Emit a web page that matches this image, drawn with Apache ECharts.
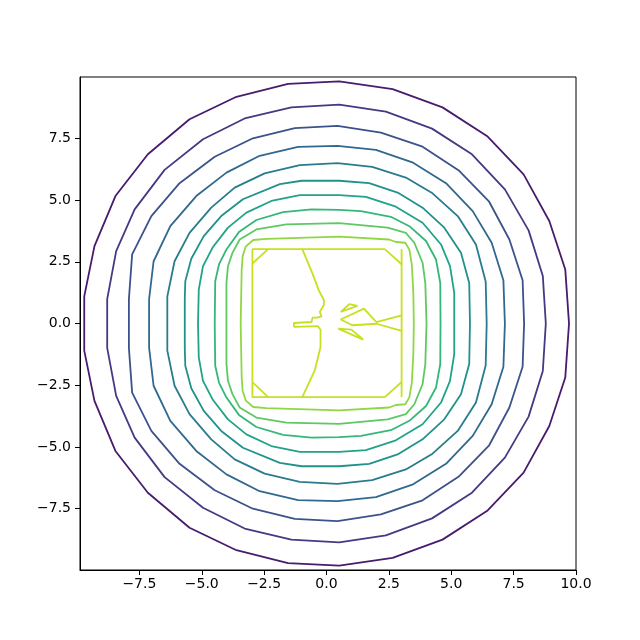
<!DOCTYPE html>
<html><head><meta charset="utf-8">
<script src="https://cdn.jsdelivr.net/npm/echarts@6/dist/echarts.min.js"></script>
<style>html,body{margin:0;padding:0;background:#fff}#c{width:640px;height:640px}</style>
</head><body><div id="c"></div>
<script>
// Tick labels
const xTicks = [-7.5, -5, -2.5, 0, 2.5, 5, 7.5, 10];
const yTicks = [-7.5, -5, -2.5, 0, 2.5, 5, 7.5];
// Contour level colours (viridis, outer -> inner)
const levelColors = ['#481b6d','#443a83','#3b528b','#31688e','#287c8e','#21918c','#20a386','#35b779','#5ec962','#90d743','#c8e020'];

// Contour rings (outer -> inner)
const ring1 = [[9.72,0],[9.57,2.19],[8.93,4.15],[7.90,6.04],[6.46,7.57],[4.65,8.75],[2.65,9.49],[0.51,9.80],[-1.54,9.70],[-3.61,9.18],[-5.49,8.27],[-7.16,6.85],[-8.46,5.16],[-9.30,3.13],[-9.71,1.10],[-9.71,-1.10],[-9.30,-3.13],[-8.46,-5.16],[-7.16,-6.85],[-5.49,-8.27],[-3.61,-9.18],[-1.54,-9.70],[0.51,-9.80],[2.65,-9.49],[4.65,-8.75],[6.46,-7.57],[7.90,-6.04],[8.93,-4.15],[9.57,-2.19],[9.72,0]];
const ring2 = [[8.79,0],[8.67,1.92],[8.10,3.77],[7.15,5.43],[5.83,6.85],[4.23,7.89],[2.38,8.58],[0.51,8.86],[-1.41,8.75],[-3.28,8.30],[-4.95,7.46],[-6.49,6.22],[-7.69,4.62],[-8.43,2.93],[-8.79,0.99],[-8.79,-0.99],[-8.43,-2.93],[-7.69,-4.62],[-6.49,-6.22],[-4.95,-7.46],[-3.28,-8.30],[-1.41,-8.75],[0.51,-8.86],[2.38,-8.58],[4.23,-7.89],[5.83,-6.85],[7.15,-5.43],[8.10,-3.77],[8.67,-1.92],[8.79,0]];
const ring3 = [[7.92,0],[7.86,1.75],[7.33,3.40],[6.52,4.93],[5.32,6.18],[3.85,7.16],[2.18,7.73],[0.44,8.00],[-1.27,7.91],[-2.95,7.50],[-4.48,6.75],[-5.89,5.68],[-7.02,4.35],[-7.79,2.80],[-7.92,0.99],[-7.92,-0.99],[-7.79,-2.80],[-7.02,-4.35],[-5.89,-5.68],[-4.48,-6.75],[-2.95,-7.50],[-1.27,-7.91],[0.44,-8.00],[2.18,-7.73],[3.85,-7.16],[5.32,-6.18],[6.52,-4.93],[7.33,-3.40],[7.86,-1.75],[7.92,0]];
const ring4 = [[7.15,0],[7.09,1.75],[6.62,3.27],[5.86,4.55],[4.79,5.68],[3.47,6.51],[1.98,7.03],[0.44,7.19],[-1.14,7.15],[-2.68,6.79],[-4.01,6.11],[-5.22,5.16],[-6.26,3.94],[-6.93,2.52],[-7.11,0.99],[-7.11,-0.99],[-6.93,-2.52],[-6.26,-3.94],[-5.22,-5.16],[-4.01,-6.11],[-2.68,-6.79],[-1.14,-7.15],[0.44,-7.19],[1.98,-7.03],[3.47,-6.51],[4.79,-5.68],[5.86,-4.55],[6.62,-3.27],[7.09,-1.75],[7.15,0]];
const ring5 = [[6.42,0],[6.38,1.70],[5.99,3.20],[5.26,4.35],[4.25,5.27],[3.18,5.91],[1.83,6.34],[0.44,6.49],[-1.07,6.41],[-2.48,6.08],[-3.68,5.50],[-4.62,4.69],[-5.49,3.67],[-6.09,2.52],[-6.38,1.10],[-6.38,-1.10],[-6.09,-2.52],[-5.49,-3.67],[-4.62,-4.69],[-3.68,-5.50],[-2.48,-6.08],[-1.07,-6.41],[0.44,-6.49],[1.83,-6.34],[3.18,-5.91],[4.25,-5.27],[5.26,-4.35],[5.99,-3.20],[6.38,-1.70],[6.42,0]];
const ring6 = [[5.75,0],[5.72,1.64],[5.39,2.86],[4.72,3.88],[3.85,4.69],[2.85,5.30],[1.71,5.68],[0.51,5.78],[-1.00,5.78],[-1.87,5.64],[-3.35,5.03],[-4.22,4.35],[-4.92,3.54],[-5.42,2.62],[-5.66,1.71],[-5.68,1.00],[-5.68,-1.00],[-5.66,-1.71],[-5.42,-2.62],[-4.92,-3.54],[-4.22,-4.35],[-3.35,-5.03],[-1.87,-5.64],[-1.00,-5.78],[0.51,-5.78],[1.71,-5.68],[2.85,-5.30],[3.85,-4.69],[4.72,-3.88],[5.39,-2.86],[5.72,-1.64],[5.75,0]];
const ring7 = [[5.12,0],[5.12,1.24],[4.95,2.32],[4.59,3.20],[3.85,4.08],[2.78,4.73],[1.58,5.13],[0.51,5.20],[-1.07,5.20],[-2.21,4.96],[-3.21,4.49],[-3.95,3.88],[-4.55,3.10],[-4.95,2.32],[-5.12,1.37],[-5.15,0],[-5.12,-1.37],[-4.95,-2.32],[-4.55,-3.10],[-3.95,-3.88],[-3.21,-4.49],[-2.21,-4.96],[-1.07,-5.20],[0.51,-5.20],[1.58,-5.13],[2.78,-4.73],[3.85,-4.08],[4.59,-3.20],[4.95,-2.32],[5.12,-1.24],[5.12,0]];
const ring8 = [[4.57,0],[4.56,1.64],[4.39,2.59],[3.99,3.34],[3.32,3.94],[2.58,4.32],[1.38,4.55],[0.51,4.60],[-0.60,4.62],[-1.74,4.51],[-2.81,4.19],[-3.51,3.70],[-4.01,3.00],[-4.31,2.39],[-4.46,1.71],[-4.48,0],[-4.46,-1.71],[-4.31,-2.39],[-4.01,-3.00],[-3.51,-3.70],[-2.81,-4.19],[-1.74,-4.51],[-0.60,-4.62],[0.51,-4.60],[1.38,-4.55],[2.58,-4.32],[3.32,-3.94],[3.99,-3.34],[4.39,-2.59],[4.56,-1.64],[4.57,0]];
const ring9 = [[4.01,0],[3.96,1.64],[3.85,2.46],[3.52,3.27],[3.18,3.67],[2.45,3.88],[0.51,4.06],[-1.61,4.01],[-2.81,3.81],[-3.48,3.40],[-3.77,2.86],[-3.95,2.32],[-4.01,1.64],[-4.01,0],[-4.01,-1.64],[-3.95,-2.32],[-3.77,-2.86],[-3.48,-3.40],[-2.81,-3.81],[-1.61,-4.01],[0.51,-4.06],[2.45,-3.88],[3.18,-3.67],[3.52,-3.27],[3.85,-2.46],[3.96,-1.64],[4.01,0]];
const ring10 = [[3.50,0],[3.48,1.24],[3.42,2.39],[3.32,2.99],[3.16,3.27],[2.78,3.30],[2.51,3.40],[0.51,3.52],[-2.41,3.43],[-2.94,3.38],[-3.24,3.11],[-3.36,2.73],[-3.40,2.18],[-3.44,0],[-3.40,-2.18],[-3.36,-2.73],[-3.24,-3.11],[-2.94,-3.38],[-2.41,-3.43],[0.51,-3.52],[2.51,-3.40],[2.78,-3.30],[3.16,-3.27],[3.32,-2.99],[3.42,-2.39],[3.48,-1.24],[3.50,0]];

// Innermost level: pieces
const innerSquare = [[2.34,3.01],[-2.97,3.01],[-2.97,-2.98],[2.34,-2.98]];
const innerRight = [[3.01,3.01],[3.01,-2.98]];
const innerCornerTL = [[-2.97,2.43],[-2.34,3.01]];
const innerCornerTR = [[2.34,3.01],[3.01,2.40]];
const innerCornerBL = [[-2.97,-2.37],[-2.34,-2.98]];
const innerCornerBR = [[2.34,-2.98],[3.01,-2.37]];
const innerWave = [[-0.97,3.01],[-0.56,2.02],[-0.30,1.32],[-0.10,0.94],[-0.11,0.74],[-0.27,0.47],[-0.20,0.29],[-0.38,0.24],[-0.56,0.24],[-0.60,0.06],[-1.31,0.02],[-1.30,-0.14],[-0.34,-0.11],[-0.24,-0.25],[-0.24,-0.95],[-0.47,-1.90],[-0.97,-2.98]];
const innerArrow = [[3.01,0.33],[2.00,0.06],[1.50,0.60],[0.57,0.16],[1.04,-0.07],[2.00,-0.01],[3.01,-0.30]];
const innerTriUp = [[0.57,0.47],[0.91,0.78],[1.24,0.71],[0.57,0.47]];
const innerTriDown = [[0.47,-0.21],[1.00,-0.25],[1.47,-0.65],[0.47,-0.21]];

const rings = [ring1, ring2, ring3, ring4, ring5, ring6, ring7, ring8, ring9, ring10];
const innerPieces = [innerSquare, innerRight, innerCornerTL, innerCornerTR, innerCornerBL, innerCornerBR, innerWave, innerArrow, innerTriUp, innerTriDown];

function lineSeries(data, color) {
  return { type: 'line', data: data, showSymbol: false, symbol: 'none', silent: true,
    animation: false, lineStyle: { color: color, width: 1.8 }, z: 3 };
}
const series = [];
rings.forEach((r, i) => series.push(lineSeries(r, levelColors[i])));
innerPieces.forEach(p => series.push(lineSeries(p, levelColors[10])));

const fmt = v => (v < 0 ? '\u2212' : '') + Math.abs(v).toFixed(1);
const font = { fontFamily: 'DejaVu Sans', fontSize: 14, color: '#000' };

const chart = echarts.init(document.getElementById('c'), null, { renderer: 'canvas' });
chart.setOption({
  backgroundColor: '#fff',
  animation: false,
  grid: { left: 80, top: 77, width: 496, height: 493, show: true, borderColor: '#000', borderWidth: 1, backgroundColor: 'transparent' },
  xAxis: { type: 'value', min: -9.88, max: 10.0,
    axisLine: { show: true, onZero: false, lineStyle: { color: '#000', width: 1 } },
    axisTick: { show: true, inside: false, length: 5, lineStyle: { color: '#000' }, customValues: xTicks },
    axisLabel: Object.assign({ margin: 7, formatter: fmt, customValues: xTicks }, font),
    splitLine: { show: false } },
  yAxis: { type: 'value', min: -9.98, max: 9.98,
    axisLine: { show: true, onZero: false, lineStyle: { color: '#000', width: 1 } },
    axisTick: { show: true, inside: false, length: 5, lineStyle: { color: '#000' }, customValues: yTicks },
    axisLabel: Object.assign({ margin: 9, formatter: fmt, customValues: yTicks }, font),
    splitLine: { show: false } },
  series: series
});
</script></body></html>
